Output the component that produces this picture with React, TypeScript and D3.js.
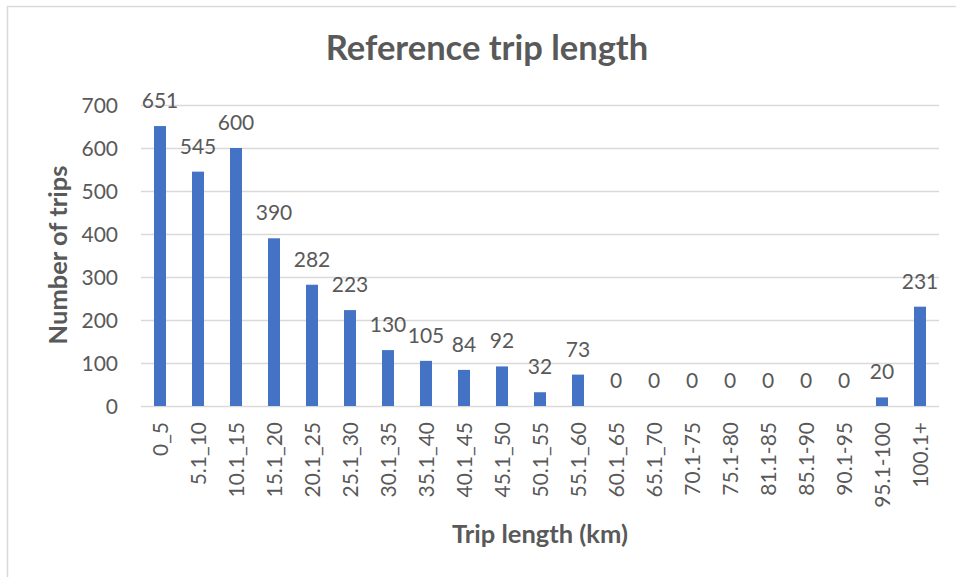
import React from "react";
import * as d3 from "d3";

const categories = [
  "0_5", "5.1_10", "10.1_15", "15.1_20", "20.1_25", "25.1_30", "30.1_35",
  "35.1_40", "40.1_45", "45.1_50", "50.1_55", "55.1_60", "60.1_65", "65.1_70",
  "70.1-75", "75.1-80", "81.1-85", "85.1-90", "90.1-95", "95.1-100", "100.1+",
];
const trips = [651, 545, 600, 390, 282, 223, 130, 105, 84, 92, 32, 73, 0, 0, 0, 0, 0, 0, 0, 20, 231];
const yTicks = [0, 100, 200, 300, 400, 500, 600, 700];

const W = 956;
const H = 577;
const FONT = "Lato, 'Open Sans', sans-serif";
const TEXT = "#595959";
const GRID = "#d9d9d9";
const BAR = "#4472C4";

export default function App() {
  const left = 141;
  const right = 939;
  const top = 105;
  const bottom = 406;

  const x = d3
    .scaleBand<string>()
    .domain(categories)
    .range([left, right])
    .paddingInner(0.684)
    .paddingOuter(0.342);
  const y = d3.scaleLinear().domain([0, 700]).range([bottom, top]);

  return (
    <svg
      width={W}
      height={H}
      style={{ position: "absolute", left: 0, top: 0, background: "#fff" }}
      fontFamily={FONT}
    >
      <rect x={0} y={0} width={W} height={H} fill="#fff" />
      <rect x={7.5} y={6.5} width={2000} height={2000} fill="none" stroke={GRID} strokeWidth={1.5} />
      <text x={487} y={60} textAnchor="middle" fontSize={34.5} fontWeight={700} fill={TEXT}>
        Reference trip length
      </text>
      {yTicks.map((t) => (
        <g key={t}>
          <line x1={left} x2={right} y1={Math.round(y(t)) + 0.5} y2={Math.round(y(t)) + 0.5} stroke={GRID} strokeWidth={1.5} />
          <text x={118} y={y(t)} dy="0.36em" textAnchor="end" fontSize={21} fill={TEXT}>
            {t}
          </text>
        </g>
      ))}
      {categories.map((c, i) => {
        const v = trips[i];
        const bx = x(c) as number;
        const cx = bx + x.bandwidth() / 2;
        return (
          <g key={c}>
            <rect x={bx} y={y(v)} width={x.bandwidth()} height={y(0) - y(v)} fill={BAR} />
            <text x={cx} y={y(v) - 18} textAnchor="middle" fontSize={21} fill={TEXT}>
              {v}
            </text>
            <text
              transform={`translate(${cx},422) rotate(-90)`}
              dy="0.36em"
              textAnchor="end"
              fontSize={21}
              fill={TEXT}
            >
              {c}
            </text>
          </g>
        );
      })}
      <text
        transform={`translate(67,255) rotate(-90)`}
        textAnchor="middle"
        fontSize={25.5}
        fontWeight={700}
        fill={TEXT}
      >
        Number of trips
      </text>
      <text x={540} y={543} textAnchor="middle" fontSize={25.5} fontWeight={700} fill={TEXT}>
        Trip length (km)
      </text>
    </svg>
  );
}
